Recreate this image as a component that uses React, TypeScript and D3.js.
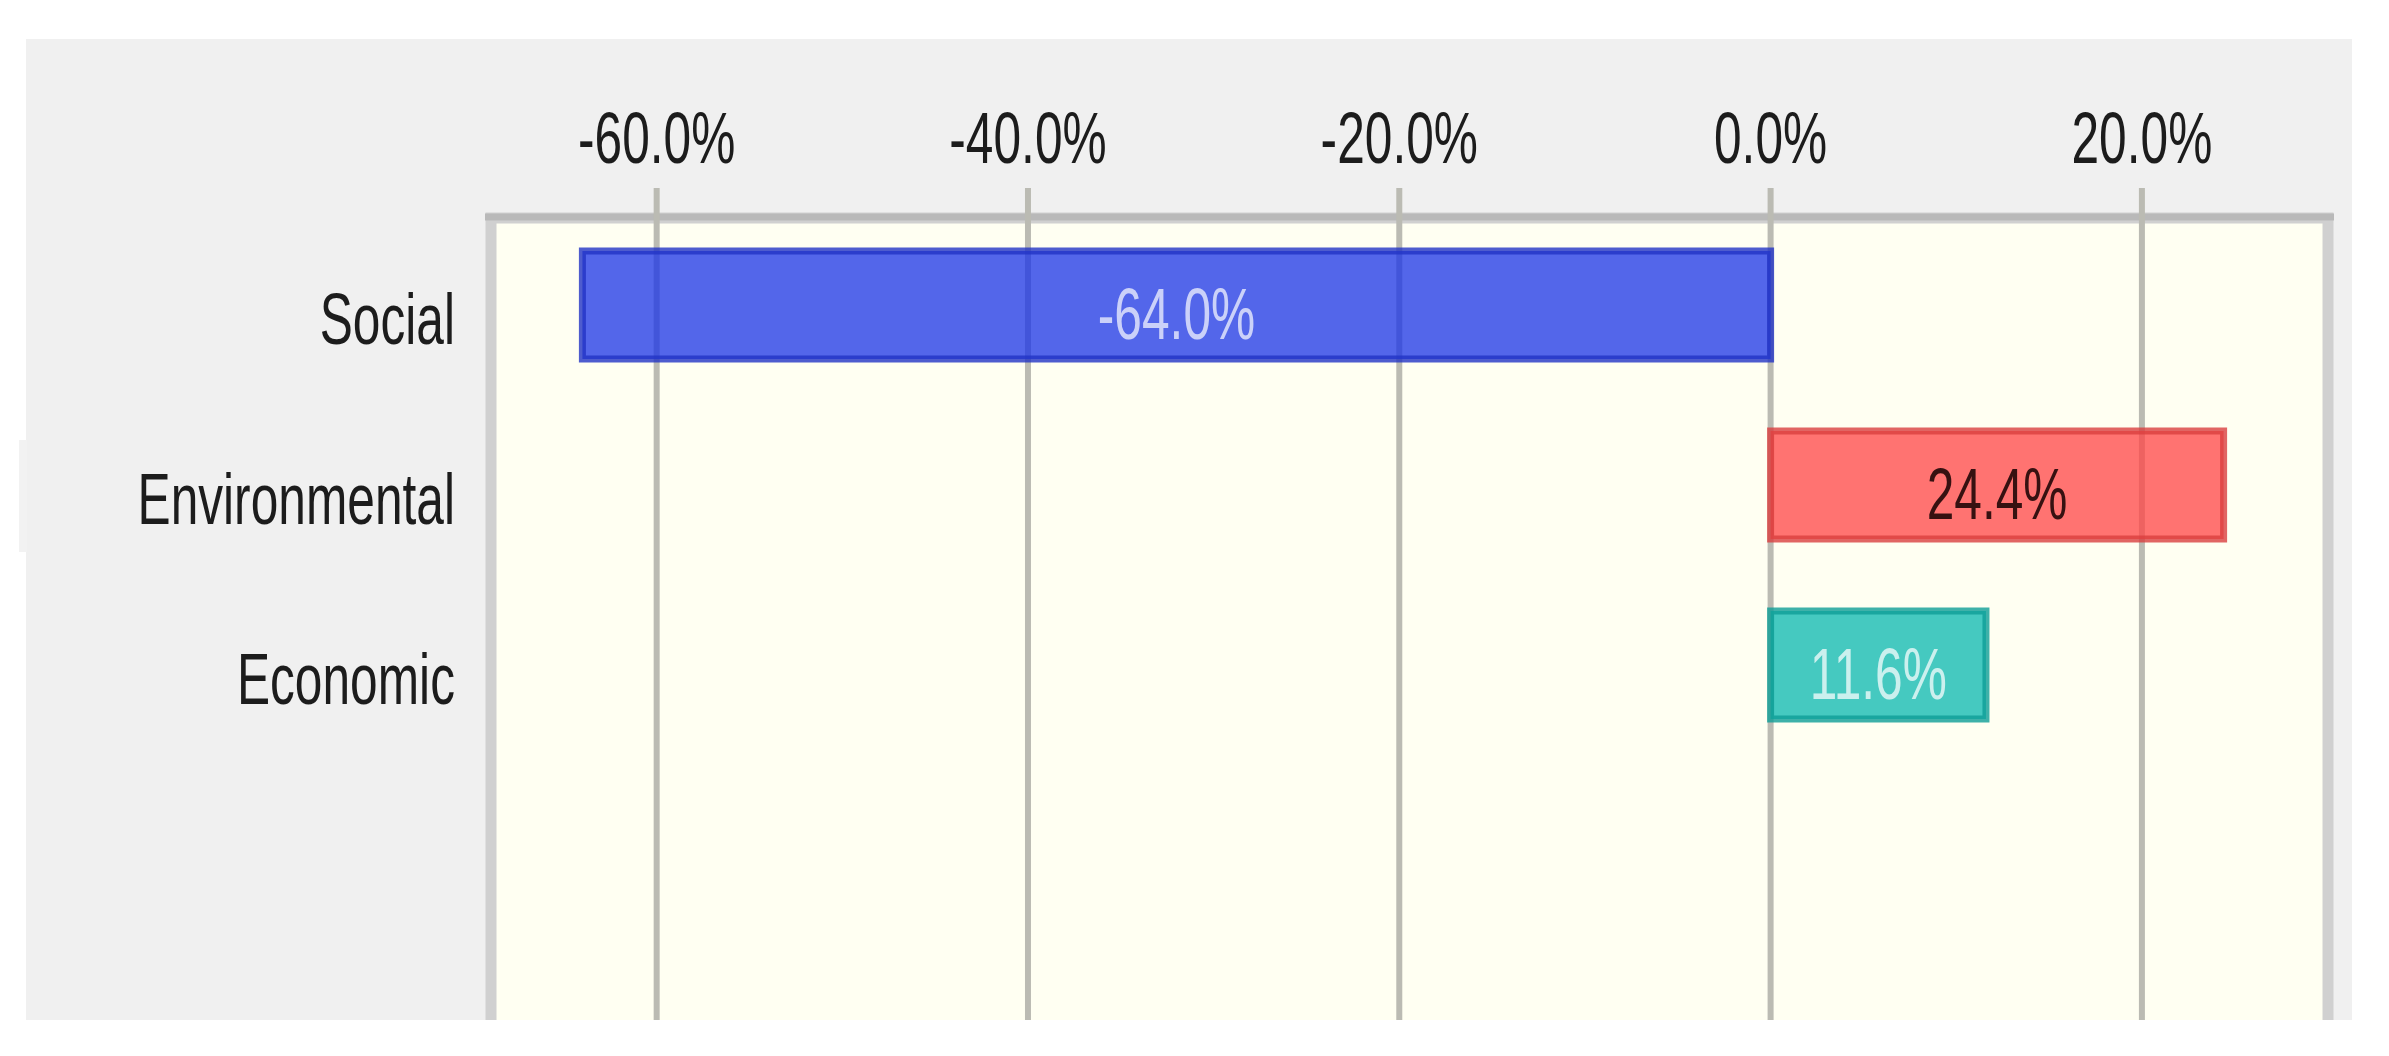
import React from "react";
import * as d3 from "d3";

// chart values
const categories = ["Social", "Environmental", "Economic"];
const values = [-64.0, 24.4, 11.6];
const tickValues = [-60, -40, -20, 0, 20];
const barColors = ["#1933E7", "#FF4445", "#07B7AF"];
const strokeColors = ["#2233C4", "#D93F3F", "#0E9E96"];
const valueLabelColors = ["rgba(255,255,255,0.7)", "rgba(20,0,0,0.85)", "rgba(255,255,255,0.72)"];

const W = 2389, H = 1056;
const panel = { x: 26, y: 39, right: 2352, bottom: 1020 };
const plot = { left: 497, right: 2322, top: 221 };
const FONT = "'Liberation Sans', Arial, sans-serif";
const FS = 72;
const SX = 0.69; // narrow glyphs like the original

const fmt = (v: number) => `${v.toFixed(1)}%`;

function Label({ x, y, text, anchor = "middle", fill = "#1c1c1c" }: any) {
    return (
        <text
            transform={`translate(${x},${y}) scale(${SX},1)`}
            textAnchor={anchor}
            fontFamily={FONT}
            fontSize={FS}
            fill={fill}
        >
            {text}
        </text>
    );
}

export default function App() {
    const x = d3.scaleLinear().domain([-68.6, 29.7]).range([plot.left, plot.right]);
    const y = d3.scaleBand<string>()
        .domain(categories)
        .range([215, 215 + 180 * categories.length])
        .paddingInner(0.4)
        .paddingOuter(0.2);

    const bw = y.bandwidth();

    return (
        <div style={{ position: "absolute", left: 0, top: 0 }}>
            <svg width={W} height={H} style={{ display: "block", background: "#fff" }}>
                {/* grey panel */}
                <rect x={panel.x} y={panel.y} width={panel.right - panel.x} height={panel.bottom - panel.y} fill="#F0F0F0" />
                <rect x={19} y={440} width={8} height={112} fill="#F2F2F2" />

                {/* plot area, runs past the crop at the bottom */}
                <rect
                    x={plot.left - 6}
                    y={plot.top - 3}
                    width={plot.right - plot.left + 12}
                    height={panel.bottom - plot.top + 60}
                    fill="#FFFFF2"
                    stroke="#D0D0D0"
                    strokeWidth={11}
                />
                <line x1={plot.left - 12} x2={plot.right + 12} y1={plot.top - 4} y2={plot.top - 4} stroke="#B9B9B9" strokeWidth={7} />

                {/* grid lines + tick labels */}
                {tickValues.map(t => (
                    <g key={t}>
                        <line x1={x(t)} x2={x(t)} y1={188} y2={panel.bottom} stroke="#BBBBB3" strokeWidth={6} />
                        <Label x={x(t)} y={163} text={fmt(t)} />
                    </g>
                ))}

                {/* bars */}
                {categories.map((c, i) => {
                    const v = values[i];
                    const x0 = x(Math.min(0, v));
                    const x1 = x(Math.max(0, v));
                    const yc = (y(c) as number) + bw / 2;
                    return (
                        <g key={c}>
                            <rect
                                x={x0}
                                y={y(c)}
                                width={x1 - x0}
                                height={bw}
                                fill={barColors[i]}
                                fillOpacity={0.75}
                                stroke={strokeColors[i]}
                                strokeOpacity={0.8}
                                strokeWidth={7}
                            />
                            <Label x={(x0 + x1) / 2} y={yc + 34} text={fmt(v)} fill={valueLabelColors[i]} />
                            <Label x={455} y={yc + 39} text={c} anchor="end" />
                        </g>
                    );
                })}

                {/* image is cropped here */}
                <rect x={0} y={panel.bottom} width={W} height={H - panel.bottom} fill="#fff" />
            </svg>
        </div>
    );
}
